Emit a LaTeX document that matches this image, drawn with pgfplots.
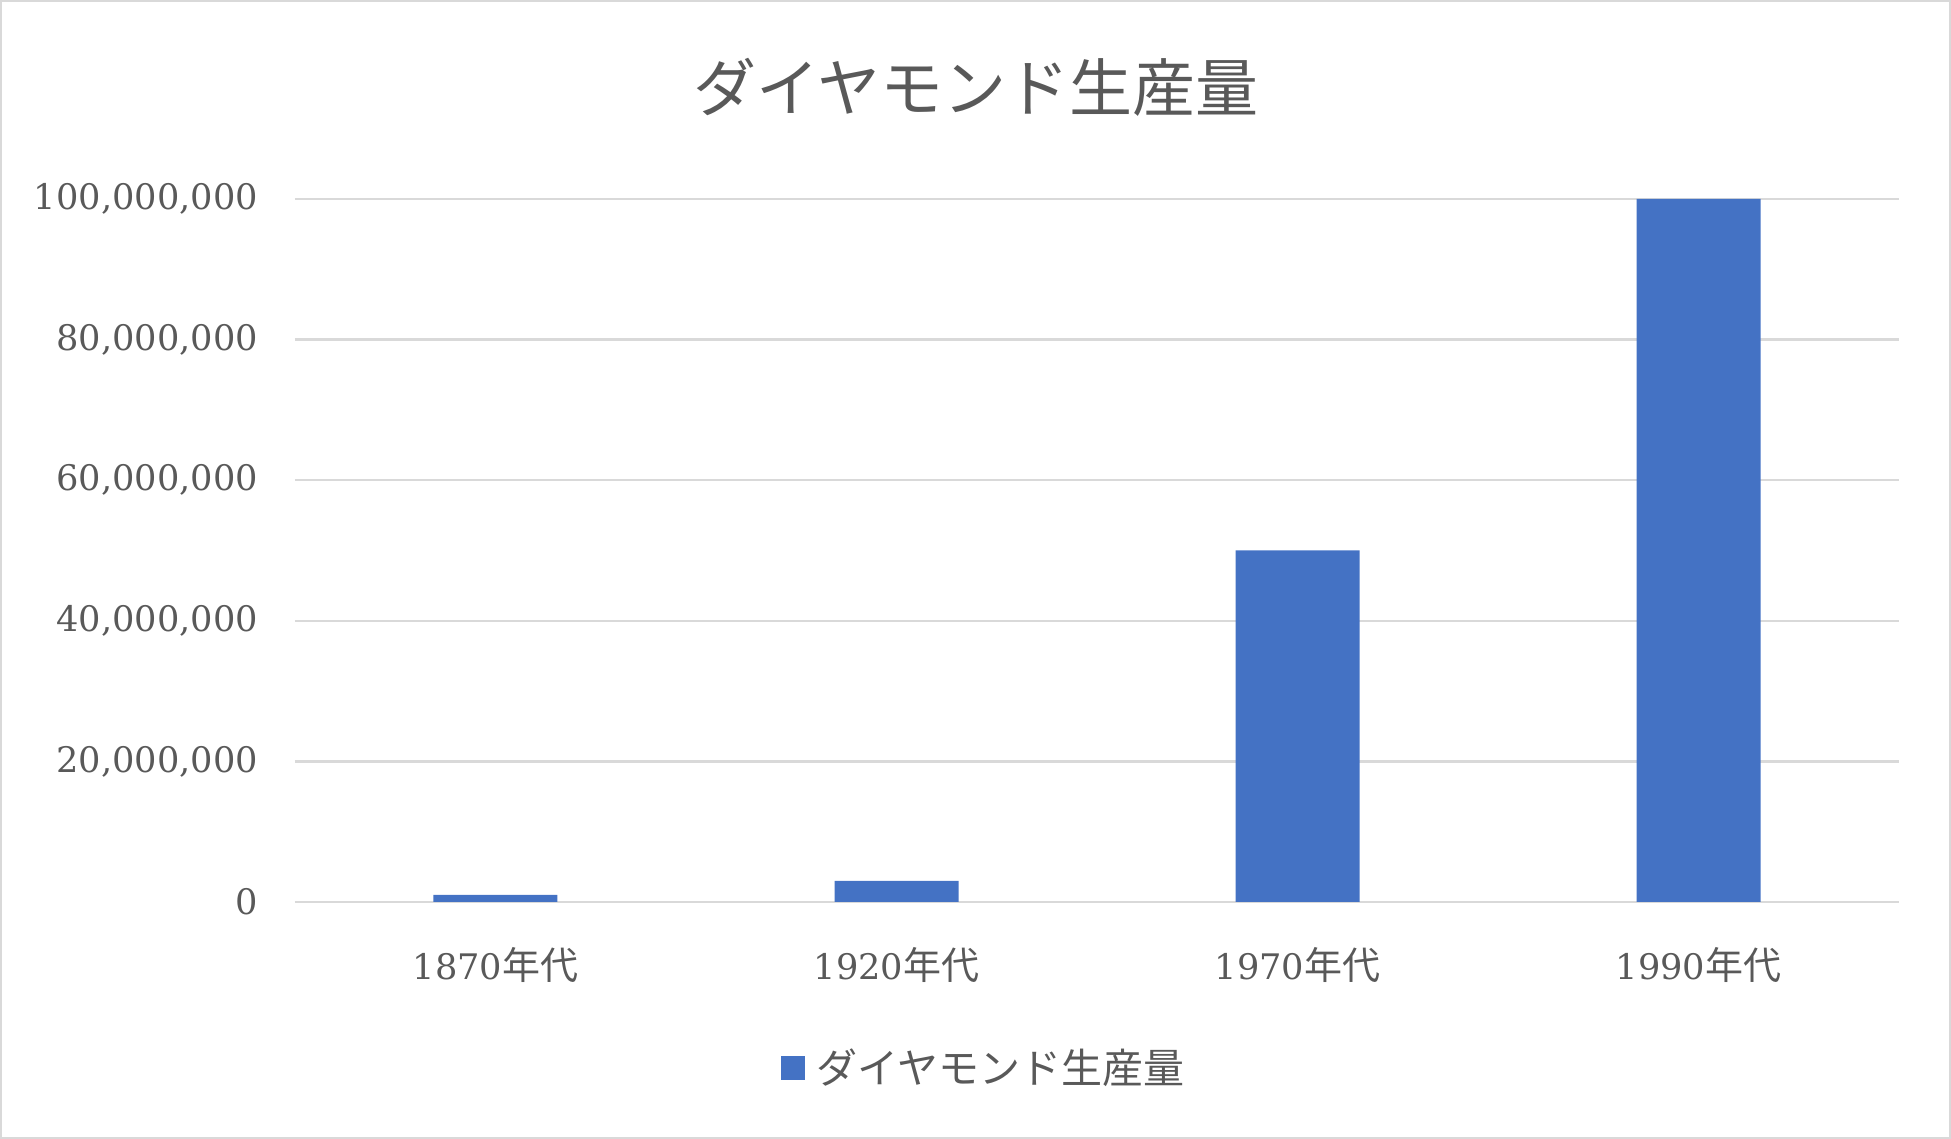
\documentclass[border=0pt]{standalone}
\usepackage{pgfplots}
\pgfplotsset{compat=1.18}
\usepackage{fontspec}
\setmainfont{DejaVu Serif}
\newfontfamily\cjk{Noto Sans CJK JP}
\newcommand{\nen}{{\cjk\fontsize{19}{22}\selectfont 年代}}
\definecolor{txt}{HTML}{595959}
\definecolor{gridc}{HTML}{D9D9D9}
\definecolor{barc}{HTML}{4472C4}
\begin{document}
\begin{tikzpicture}
\useasboundingbox (0,0) rectangle (975.5pt,569.5pt);
\draw[gridc, line width=1pt] (0.5pt,0.5pt) rectangle (975pt,569pt);
\node[txt, font=\cjk\fontsize{31.5}{36}\selectfont] at (488pt,526pt) {ダイヤモンド生産量};
\begin{axis}[
  at={(147.5pt,118.5pt)}, anchor=south west,
  width=802pt, height=351.5pt, scale only axis,
  ybar, bar width=62pt,
  xmin=-0.5, xmax=3.5, ymin=0, ymax=100000000,
  xtick={0,1,2,3},
  xticklabels={1870\nen,1920\nen,1970\nen,1990\nen},
  ytick={0,20000000,40000000,60000000,80000000,100000000},
  scaled y ticks=false,
  /pgf/number format/fixed, /pgf/number format/precision=0,
  /pgf/number format/1000 sep={,}, /pgf/number format/assume math mode=true,
  major tick length=0pt,
  axis line style={draw=none},
  ymajorgrids, grid style={gridc, line width=1.2pt},
  tick label style={txt, font=\fontsize{17.6}{20}\selectfont},
  yticklabel style={xshift=-15pt},
  xticklabel style={yshift=-19pt},
  legend style={at={(0.4300,-0.236)}, anchor=center, draw=none, fill=none,
    font=\cjk\fontsize{20.5}{24}\selectfont, text=txt},
  legend image code/.code={\fill[barc] (0pt,-6pt) rectangle (12pt,6pt);},
]
\addplot[fill=barc, draw=none] coordinates {(0,1000000) (1,3000000) (2,50000000) (3,100000000)};
\addlegendentry{\hspace{3.7pt}ダイヤモンド生産量}
\end{axis}
\end{tikzpicture}
\end{document}
